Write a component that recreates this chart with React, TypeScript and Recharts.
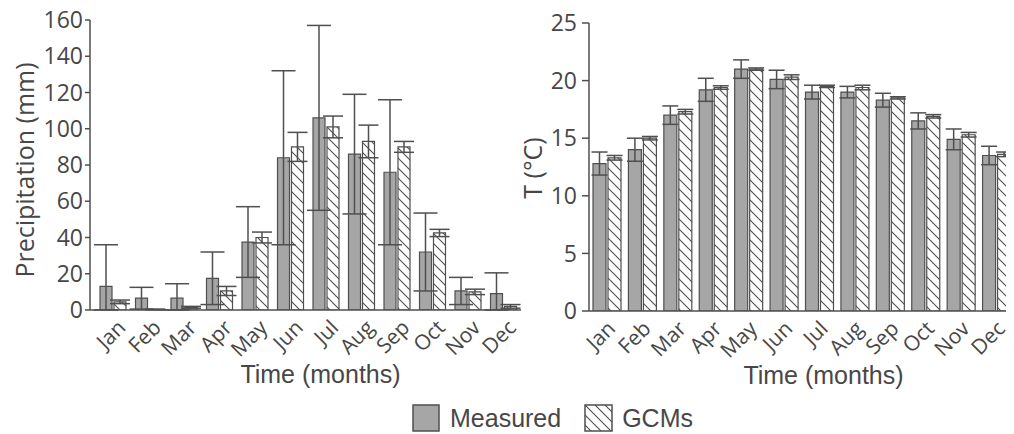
import { Bar, BarChart, ErrorBar, XAxis, YAxis } from "recharts";

const months = ["Jan", "Feb", "Mar", "Apr", "May", "Jun", "Jul", "Aug", "Sep", "Oct", "Nov", "Dec"];

const precipMeasured = [13, 6.5, 6.5, 17.5, 37.5, 84, 106, 86, 76, 32, 10.5, 9];
const precipMeasuredSd = [23, 6, 8, 14.5, 19.5, 48, 51, 33, 40, 21.5, 7.5, 11.5];
const precipGcm = [4.5, 0.3, 1.5, 10.5, 40, 90, 101, 93, 90, 42.5, 10, 2];
const precipGcmSd = [1, 0.2, 0.5, 2.5, 3, 8, 6, 9, 3, 2, 1.5, 1];

const tempMeasured = [12.8, 14, 17, 19.2, 21, 20.1, 19, 19, 18.3, 16.5, 14.9, 13.5];
const tempMeasuredSd = [1, 1, 0.8, 1, 0.8, 0.8, 0.6, 0.5, 0.6, 0.7, 0.9, 0.8];
const tempGcm = [13.3, 15, 17.3, 19.4, 21, 20.3, 19.5, 19.4, 18.5, 16.9, 15.3, 13.6];
const tempGcmSd = [0.2, 0.15, 0.2, 0.15, 0.1, 0.2, 0.1, 0.2, 0.1, 0.15, 0.2, 0.2];

const precipTicks = [0, 20, 40, 60, 80, 100, 120, 140, 160];
const tempTicks = [0, 5, 10, 15, 20, 25];

// lower whisker stops at zero (precipitation can't go negative)
const errRange = (v: number, sd: number) => [Math.min(sd, v), sd];

const precipData = months.map((month, i) => ({
  month,
  measured: precipMeasured[i],
  measuredSd: errRange(precipMeasured[i], precipMeasuredSd[i]),
  gcm: precipGcm[i],
  gcmSd: errRange(precipGcm[i], precipGcmSd[i]),
}));

const tempData = months.map((month, i) => ({
  month,
  measured: tempMeasured[i],
  measuredSd: tempMeasuredSd[i],
  gcm: tempGcm[i],
  gcmSd: tempGcmSd[i],
}));

const ink = "#4f4f4f";
const textColor = "#474747";
const barGray = "#a6a6a6";
const tickFont = "'Open Sans', sans-serif";
const labelFont = "'Liberation Sans', Arial, sans-serif";

function MonthTick({ x, y, payload, shift }: any) {
  const ax = x + shift;
  const ay = y + 19;
  return (
    <text
      x={ax}
      y={ay}
      transform={`rotate(-45, ${ax}, ${ay})`}
      textAnchor="end"
      fill={textColor}
      fontSize={21}
      fontFamily={tickFont}
    >
      {payload.value}
    </text>
  );
}

const yTitle = (cx: number, shiftY: number, text: string) => (props: any) => {
  const vb = props.viewBox;
  const cy = vb.y + vb.height / 2 + shiftY;
  return (
    <text
      x={cx}
      y={cy}
      transform={`rotate(-90, ${cx}, ${cy})`}
      textAnchor="middle"
      dominantBaseline="central"
      fill={textColor}
      fontSize={25}
      fontFamily={tickFont}
    >
      {text}
    </text>
  );
};

const xTitle = (shiftX: number) => (props: any) => {
  const vb = props.viewBox;
  return (
    <text
      x={vb.x + vb.width / 2 + shiftX}
      y={vb.y + 73}
      textAnchor="middle"
      fill={textColor}
      fontSize={25}
      fontFamily={labelFont}
    >
      Time (months)
    </text>
  );
};

export default function App() {
  return (
    <div style={{ position: "relative", width: 1014, height: 434, margin: "-8px 0 0 -8px", overflow: "hidden", background: "#fff" }}>
      <svg width={0} height={0} style={{ position: "absolute" }}>
        <defs>
          <pattern id="hatch" width={10} height={10} patternUnits="userSpaceOnUse">
            <rect width={10} height={10} fill="#fff" />
            <path d="M0,0 L10,10 M-2,8 L2,12 M8,-2 L12,2" stroke={ink} strokeWidth={1.1} />
          </pattern>
        </defs>
      </svg>

      <div style={{ position: "absolute", left: 0, top: 0 }}>
        <BarChart
          width={525}
          height={434}
          data={precipData}
          margin={{ top: 20, right: 4, left: 0, bottom: 44 }}
          barSize={12}
          barGap={2}
        >
          <XAxis
            dataKey="month"
            height={80}
            padding={{ left: 5, right: 0 }}
            axisLine={{ stroke: ink, strokeWidth: 1.5 }}
            tickLine={false}
            tickSize={0}
            tickMargin={0}
            interval={0}
            tick={<MonthTick shift={14} />}
            label={{ content: xTitle(15) }}
          />
          <YAxis
            width={90}
            domain={[0, 160]}
            allowDataOverflow
            ticks={precipTicks}
            interval={0}
            axisLine={{ stroke: ink, strokeWidth: 1.5 }}
            tickLine={{ stroke: ink, strokeWidth: 1.5 }}
            tickSize={5}
            tickMargin={2}
            tick={{ fill: textColor, fontSize: 23, fontFamily: tickFont }}
            label={{ content: yTitle(24, 5, "Precipitation (mm)") }}
          />
          <Bar dataKey="measured" fill={barGray} stroke={ink} strokeWidth={1.2} isAnimationActive={false}>
            <ErrorBar dataKey="measuredSd" width={12} stroke={ink} strokeWidth={1.5} />
          </Bar>
          <Bar dataKey="gcm" fill="url(#hatch)" stroke={ink} strokeWidth={1.2} isAnimationActive={false}>
            <ErrorBar dataKey="gcmSd" width={10} stroke={ink} strokeWidth={1.5} />
          </Bar>
        </BarChart>
      </div>

      <div style={{ position: "absolute", left: 500, top: 0 }}>
        <BarChart
          width={514}
          height={434}
          data={tempData}
          margin={{ top: 23, right: 0, left: 0, bottom: 43 }}
          barSize={13}
          barGap={2}
        >
          <XAxis
            dataKey="month"
            height={80}
            axisLine={{ stroke: ink, strokeWidth: 1.5 }}
            tickLine={false}
            tickSize={0}
            tickMargin={0}
            interval={0}
            tick={<MonthTick shift={10} />}
            label={{ content: xTitle(22) }}
          />
          <YAxis
            width={89}
            domain={[0, 25]}
            allowDataOverflow
            ticks={tempTicks}
            interval={0}
            axisLine={{ stroke: ink, strokeWidth: 1.5 }}
            tickLine={{ stroke: ink, strokeWidth: 1.5 }}
            tickSize={7}
            tickMargin={5}
            tick={{ fill: textColor, fontSize: 23, fontFamily: tickFont }}
            label={{ content: yTitle(32, 1, "T (°C)") }}
          />
          <Bar dataKey="measured" fill={barGray} stroke={ink} strokeWidth={1.2} isAnimationActive={false}>
            <ErrorBar dataKey="measuredSd" width={8} stroke={ink} strokeWidth={1.5} />
          </Bar>
          <Bar dataKey="gcm" fill="url(#hatch)" stroke={ink} strokeWidth={1.2} isAnimationActive={false}>
            <ErrorBar dataKey="gcmSd" width={8} stroke={ink} strokeWidth={1.5} />
          </Bar>
        </BarChart>
      </div>

      <div
        style={{
          position: "absolute",
          left: 412,
          top: 403,
          display: "flex",
          alignItems: "center",
          fontFamily: labelFont,
          fontSize: 25,
          color: textColor,
          lineHeight: "30px",
        }}
      >
        <svg width={28} height={28} style={{ marginRight: 10 }}>
          <rect x={1} y={1} width={26} height={26} fill={barGray} stroke={ink} strokeWidth={1.5} />
        </svg>
        <span>Measured</span>
        <svg width={29} height={28} style={{ marginLeft: 23, marginRight: 9 }}>
          <rect x={1} y={1} width={27} height={26} fill="url(#hatch)" stroke={ink} strokeWidth={1.5} />
        </svg>
        <span>GCMs</span>
      </div>
    </div>
  );
}
